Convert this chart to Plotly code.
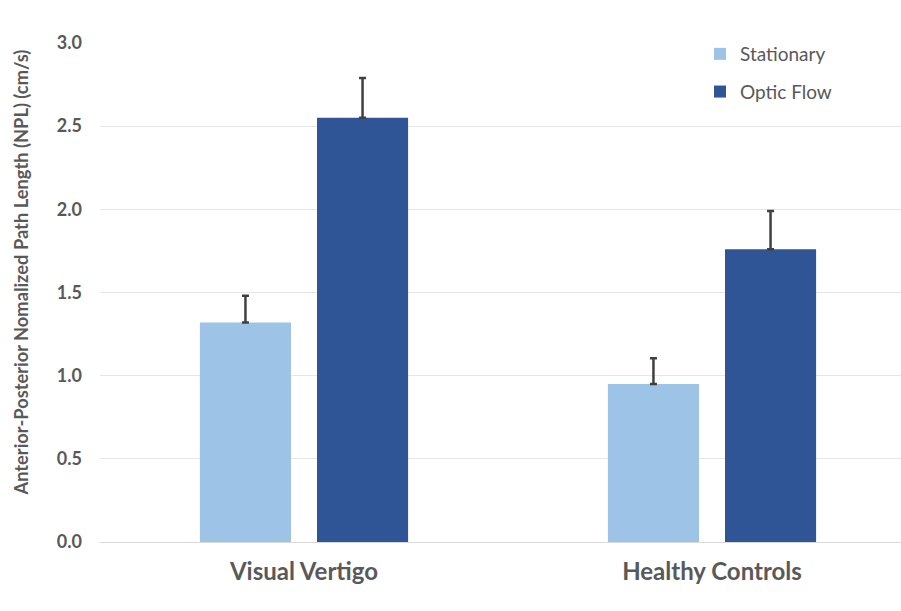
import plotly.graph_objects as go

categories = ["Visual Vertigo", "Healthy Controls"]
stationary = [1.32, 0.95]
stationary_err = [0.16, 0.155]
optic_flow = [2.55, 1.76]
optic_flow_err = [0.24, 0.23]
y_ticks = [0.0, 0.5, 1.0, 1.5, 2.0, 2.5, 3.0]
y_tick_labels = ["0.0", "0.5", "1.0", "1.5", "2.0", "2.5", "3.0"]

FONT = "Lato"
W, H = 901, 611
L, R, T, B = 100, 0, 43, 69
PW = W - L - R

fig = go.Figure()
fig.add_trace(go.Bar(
    name="Stationary", x=[0, 1], y=stationary,
    marker=dict(color="#9DC3E6", line=dict(width=0)),
    error_y=dict(type="data", array=stationary_err, symmetric=False,
                 color="#404040", thickness=2.5, width=3.5),
    legendgroup="a",
))
fig.add_trace(go.Bar(
    name="Optic Flow", x=[0, 1], y=optic_flow,
    marker=dict(color="#2F5597", line=dict(width=0)),
    error_y=dict(type="data", array=optic_flow_err, symmetric=False,
                 color="#404040", thickness=2.5, width=3.5),
    legendgroup="b",
))

fig.update_layout(
    width=W, height=H,
    margin=dict(l=L, r=R, t=T, b=B, pad=0),
    paper_bgcolor="white", plot_bgcolor="white",
    barmode="group", bargap=0.426, bargroupgap=0.222,
    font=dict(family=FONT, color="#595959"),
    legend=dict(
        x=(700 - L) / PW, y=1.0 + 8 / 499, xanchor="left", yanchor="top",
        font=dict(size=19, color="#595959", family=FONT),
        tracegroupgap=10, bgcolor="rgba(0,0,0,0)",
        itemwidth=30,
    ),
    xaxis=dict(
        tickmode="array", tickvals=[0, 1], ticktext=categories,
        range=[-(304 - L) / 408.0, (W - R - 304) / 408.0],
        tickfont=dict(size=24, color="#595959", family=FONT, weight="bold"),
        showgrid=False, zeroline=False,
        showline=True, linecolor="#D9D9D9", linewidth=1,
        ticks="", ticklabelstandoff=8,
    ),
    yaxis=dict(
        range=[0, 3.0], tickmode="array", tickvals=y_ticks, ticktext=y_tick_labels,
        tickfont=dict(size=18, color="#595959", family=FONT, weight="bold"),
        showgrid=True, gridcolor="#E6E6E6", gridwidth=1,
        zeroline=False, showline=False, ticks="", ticklabelstandoff=17,
    ),
    annotations=[dict(
        text="<b>Anterior-Posterior Nomalized Path Length (NPL) (cm/s)</b>",
        xref="paper", yref="paper", x=(20 - L) / PW, y=(542 - 272.5) / 499,
        xanchor="center", yanchor="middle", textangle=-90, showarrow=False,
        font=dict(size=18.3, color="#595959", family=FONT),
    )],
)

fig.write_html("out.html")
